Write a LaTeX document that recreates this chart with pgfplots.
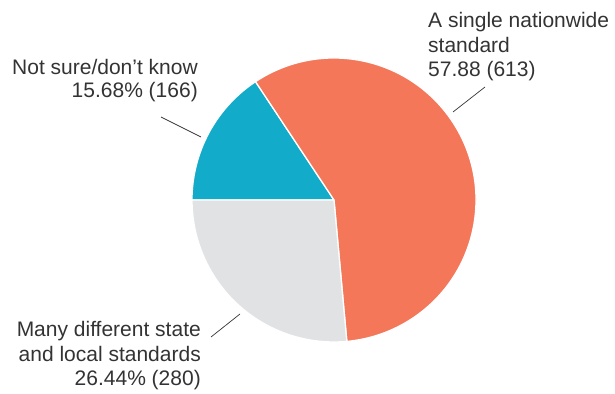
\documentclass[border=0pt]{standalone}
\usepackage{pgfplots}
\pgfplotsset{compat=1.18}
\usepackage{pgfplotstable}
\usepackage{fontspec}
\setmainfont{Liberation Sans}
\definecolor{cOrange}{HTML}{F4775A}
\definecolor{cBlue}{HTML}{12ABCA}
\definecolor{cGray}{HTML}{E1E2E4}
\definecolor{txt}{HTML}{333333}
\tikzset{lbl/.style={font=\fontsize{21bp}{25bp}\selectfont, text=txt, inner sep=0pt}}
% shares, in clockwise order starting at 9 o'clock
\pgfplotstableread{
pct count
15.68 166
57.88 613
26.44 280
}\piedata
\begin{document}
\begin{tikzpicture}
\pgfplotstablegetelem{0}{pct}\of\piedata \let\pA\pgfplotsretval
\pgfplotstablegetelem{1}{pct}\of\piedata \let\pB\pgfplotsretval
\pgfplotstablegetelem{2}{pct}\of\piedata \let\pC\pgfplotsretval
\pgfmathsetmacro{\aA}{180}
\pgfmathsetmacro{\aB}{180-3.6*\pA}
\pgfmathsetmacro{\aC}{\aB-3.6*\pB}
\pgfmathsetmacro{\aD}{\aC-3.6*\pC}
\begin{axis}[
  scale only axis, width=615bp, height=394bp,
  xmin=0, xmax=615, ymin=0, ymax=394,
  hide axis, clip=false,
]
\path (axis cs:0,0) -- (axis cs:615,394);
\fill[cBlue, draw=white, line width=1.3pt, line join=round] (axis cs:334,194) -- ++(\aA:142bp) arc[start angle=\aA, end angle=\aB, radius=142bp] -- cycle;
\fill[cOrange, draw=white, line width=1.3pt, line join=round] (axis cs:334,194) -- ++(\aB:142bp) arc[start angle=\aB, end angle=\aC, radius=142bp] -- cycle;
\fill[cGray, draw=white, line width=1.3pt, line join=round] (axis cs:334,194) -- ++(\aC:142bp) arc[start angle=\aC, end angle=\aD, radius=142bp] -- cycle;
% leader lines
\draw[txt, line width=0.7pt] (axis cs:453,282) -- (axis cs:485,307);
\draw[txt, line width=0.7pt] (axis cs:161,277) -- (axis cs:201,257);
\draw[txt, line width=0.7pt] (axis cs:211,57) -- (axis cs:240,80);
% labels
\node[lbl, anchor=base west] at (axis cs:428,366) {A single nationwide};
\node[lbl, anchor=base west] at (axis cs:428,341) {standard};
\node[lbl, anchor=base west] at (axis cs:428,317) {57.88 (613)};
\node[lbl, anchor=base east] at (axis cs:198,319) {Not sure/don’t know};
\node[lbl, anchor=base east] at (axis cs:198,296) {15.68\% (166)};
\node[lbl, anchor=base east] at (axis cs:201,57) {Many different state};
\node[lbl, anchor=base east] at (axis cs:201,32) {and local standards};
\node[lbl, anchor=base east] at (axis cs:201,9) {26.44\% (280)};
\end{axis}
\end{tikzpicture}
\end{document}
